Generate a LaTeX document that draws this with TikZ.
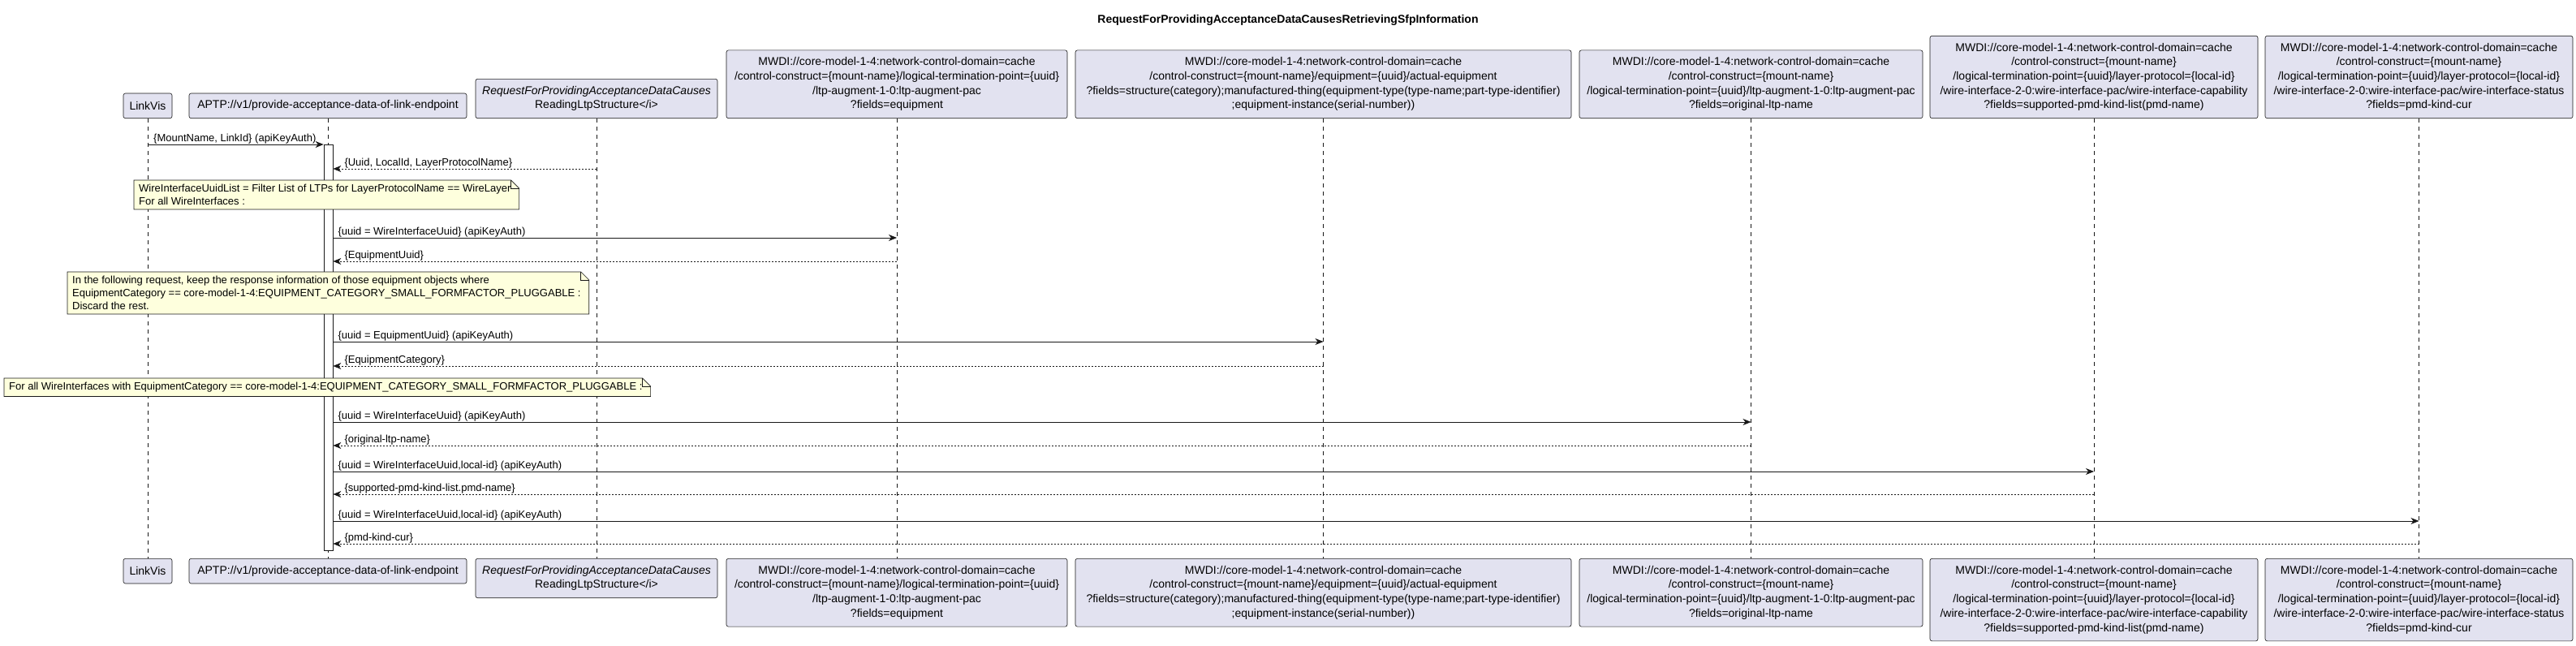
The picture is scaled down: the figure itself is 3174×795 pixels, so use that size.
\documentclass[tikz,border=0pt]{standalone}
\usepackage{fontspec}
\setmainfont{Liberation Sans}
\usetikzlibrary{arrows.meta,calc,backgrounds}
\definecolor{partfill}{HTML}{E2E2F0}
\definecolor{linecol}{HTML}{181818}
\definecolor{notefill}{HTML}{FEFFDD}
\pgfdeclarelayer{noteback}
\pgfdeclarelayer{notefront}
\pgfsetlayers{background,main,noteback,notefront}
\begin{document}
\begin{tikzpicture}[x=1pt,y=-1pt,
  part/.style={draw=linecol, line width=0.6pt, fill=partfill, rounded corners=2.5pt,
    align=center, font=\fontsize{14}{17.7}\selectfont, inner sep=0pt},
  lifeline/.style={draw=linecol, line width=0.5pt, dash pattern=on 5pt off 5pt},
  msg/.style={draw=linecol, line width=1pt, -{Stealth[length=10pt,width=8pt,inset=3pt]}},
  ret/.style={draw=linecol, line width=1pt, dash pattern=on 2pt off 2pt, -{Stealth[length=10pt,width=8pt,inset=3pt]}},
  lbl/.style={font=\fontsize{13}{15.5}\selectfont, inner sep=0pt, anchor=base west},
  notetext/.style={font=\fontsize{13}{16}\selectfont, align=left, inner xsep=10pt, inner ysep=5pt, anchor=north west},
  notebox/.style={draw=linecol, line width=0.6pt, fill=notefill},
]
\useasboundingbox (0,0) rectangle (3174,795);
\begin{scope}[on background layer]
\fill[white] (0,0) rectangle (3174,795);
\end{scope}

\node[font=\bfseries\fontsize{14}{17}\selectfont] (title) at (1587,25) {RequestForProvidingAcceptanceDataCausesRetrievingSfpInformation};

% participants top
\node[part, minimum width=60pt, minimum height=30.7pt, anchor=south] (P1t) at (182,146) {LinkVis};
\node[part, minimum width=342pt, minimum height=30.7pt, anchor=south] (P2t) at (404,146) {APTP://v1/provide-acceptance-data-of-link-endpoint};
\node[part, minimum width=298pt, minimum height=48.4pt, anchor=south] (P3t) at (735,146) {\itshape RequestForProvidingAcceptanceDataCauses\\ReadingLtpStructure</i>};
\node[part, minimum width=420pt, minimum height=83.8pt, anchor=south] (P4t) at (1105,146) {MWDI://core-model-1-4:network-control-domain=cache\\/control-construct=\{mount-name\}/logical-termination-point=\{uuid\}\\/ltp-augment-1-0:ltp-augment-pac\\?fields=equipment};
\node[part, minimum width=611pt, minimum height=83.8pt, anchor=south] (P5t) at (1630.5,146) {MWDI://core-model-1-4:network-control-domain=cache\\/control-construct=\{mount-name\}/equipment=\{uuid\}/actual-equipment\\?fields=structure(category);manufactured-thing(equipment-type(type-name;part-type-identifier)\\;equipment-instance(serial-number))};
\node[part, minimum width=423pt, minimum height=83.8pt, anchor=south] (P6t) at (2157.5,146) {MWDI://core-model-1-4:network-control-domain=cache\\/control-construct=\{mount-name\}\\/logical-termination-point=\{uuid\}/ltp-augment-1-0:ltp-augment-pac\\?fields=original-ltp-name};
\node[part, minimum width=404pt, minimum height=101.5pt, anchor=south] (P7t) at (2580,146) {MWDI://core-model-1-4:network-control-domain=cache\\/control-construct=\{mount-name\}\\/logical-termination-point=\{uuid\}/layer-protocol=\{local-id\}\\/wire-interface-2-0:wire-interface-pac/wire-interface-capability\\?fields=supported-pmd-kind-list(pmd-name)};
\node[part, minimum width=379pt, minimum height=101.5pt, anchor=south] (P8t) at (2980.5,146) {MWDI://core-model-1-4:network-control-domain=cache\\/control-construct=\{mount-name\}\\/logical-termination-point=\{uuid\}/layer-protocol=\{local-id\}\\/wire-interface-2-0:wire-interface-pac/wire-interface-status\\?fields=pmd-kind-cur};

% participants bottom
\node[part, minimum width=60pt, minimum height=30.7pt, anchor=north] (P1b) at (182,688) {LinkVis};
\node[part, minimum width=342pt, minimum height=30.7pt, anchor=north] (P2b) at (404,688) {APTP://v1/provide-acceptance-data-of-link-endpoint};
\node[part, minimum width=298pt, minimum height=48.4pt, anchor=north] (P3b) at (735,688) {\itshape RequestForProvidingAcceptanceDataCauses\\ReadingLtpStructure</i>};
\node[part, minimum width=420pt, minimum height=83.8pt, anchor=north] (P4b) at (1105,688) {MWDI://core-model-1-4:network-control-domain=cache\\/control-construct=\{mount-name\}/logical-termination-point=\{uuid\}\\/ltp-augment-1-0:ltp-augment-pac\\?fields=equipment};
\node[part, minimum width=611pt, minimum height=83.8pt, anchor=north] (P5b) at (1630.5,688) {MWDI://core-model-1-4:network-control-domain=cache\\/control-construct=\{mount-name\}/equipment=\{uuid\}/actual-equipment\\?fields=structure(category);manufactured-thing(equipment-type(type-name;part-type-identifier)\\;equipment-instance(serial-number))};
\node[part, minimum width=423pt, minimum height=83.8pt, anchor=north] (P6b) at (2157.5,688) {MWDI://core-model-1-4:network-control-domain=cache\\/control-construct=\{mount-name\}\\/logical-termination-point=\{uuid\}/ltp-augment-1-0:ltp-augment-pac\\?fields=original-ltp-name};
\node[part, minimum width=404pt, minimum height=101.5pt, anchor=north] (P7b) at (2580,688) {MWDI://core-model-1-4:network-control-domain=cache\\/control-construct=\{mount-name\}\\/logical-termination-point=\{uuid\}/layer-protocol=\{local-id\}\\/wire-interface-2-0:wire-interface-pac/wire-interface-capability\\?fields=supported-pmd-kind-list(pmd-name)};
\node[part, minimum width=379pt, minimum height=101.5pt, anchor=north] (P8b) at (2980.5,688) {MWDI://core-model-1-4:network-control-domain=cache\\/control-construct=\{mount-name\}\\/logical-termination-point=\{uuid\}/layer-protocol=\{local-id\}\\/wire-interface-2-0:wire-interface-pac/wire-interface-status\\?fields=pmd-kind-cur};

% lifelines
\foreach \i in {1,...,8} { \draw[lifeline] (P\i t.south) -- (P\i b.north); }

% activation
\node[draw=linecol, line width=0.6pt, fill=white, minimum width=11pt, minimum height=500pt, inner sep=0pt, anchor=north] (act) at (404.5,178) {};

% rows
\coordinate (r1) at (0,178);
\coordinate (r2) at (0,208);
\coordinate (r3) at (0,293);
\coordinate (r4) at (0,322);
\coordinate (r5) at (0,421);
\coordinate (r6) at (0,451);
\coordinate (r7) at (0,520);
\coordinate (r8) at (0,549);
\coordinate (r9) at (0,581);
\coordinate (r10) at (0,609);
\coordinate (r11) at (0,642);
\coordinate (r12) at (0,670);

\draw[msg] (P1t.south |- r1) -- (act.west |- r1);
\node[lbl] at ($(P1t.south |- r1)+(7,-4)$) {\{MountName, LinkId\} (apiKeyAuth)};

\draw[ret] (P3t.south |- r2) -- (act.east |- r2);
\node[lbl] at ($(act.east |- r2)+(14,-4)$) {\{Uuid, LocalId, LayerProtocolName\}};

\draw[msg] (act.east |- r3) -- (P4t.south |- r3);
\node[lbl] at ($(act.east |- r3)+(6,-4)$) {\{uuid = WireInterfaceUuid\} (apiKeyAuth)};
\draw[ret] (P4t.south |- r4) -- (act.east |- r4);
\node[lbl] at ($(act.east |- r4)+(14,-4)$) {\{EquipmentUuid\}};

\draw[msg] (act.east |- r5) -- (P5t.south |- r5);
\node[lbl] at ($(act.east |- r5)+(6,-4)$) {\{uuid = EquipmentUuid\} (apiKeyAuth)};
\draw[ret] (P5t.south |- r6) -- (act.east |- r6);
\node[lbl] at ($(act.east |- r6)+(14,-4)$) {\{EquipmentCategory\}};

\draw[msg] (act.east |- r7) -- (P6t.south |- r7);
\node[lbl] at ($(act.east |- r7)+(6,-4)$) {\{uuid = WireInterfaceUuid\} (apiKeyAuth)};
\draw[ret] (P6t.south |- r8) -- (act.east |- r8);
\node[lbl] at ($(act.east |- r8)+(14,-4)$) {\{original-ltp-name\}};

\draw[msg] (act.east |- r9) -- (P7t.south |- r9);
\node[lbl] at ($(act.east |- r9)+(6,-4)$) {\{uuid = WireInterfaceUuid,local-id\} (apiKeyAuth)};
\draw[ret] (P7t.south |- r10) -- (act.east |- r10);
\node[lbl] at ($(act.east |- r10)+(14,-4)$) {\{supported-pmd-kind-list.pmd-name\}};

\draw[msg] (act.east |- r11) -- (P8t.south |- r11);
\node[lbl] at ($(act.east |- r11)+(6,-4)$) {\{uuid = WireInterfaceUuid,local-id\} (apiKeyAuth)};
\draw[ret] (P8t.south |- r12) -- (act.east |- r12);
\node[lbl] at ($(act.east |- r12)+(14,-4)$) {\{pmd-kind-cur\}};

% notes (drawn above lifelines and activation bar)
\begin{pgfonlayer}{notefront}
\node[notetext] (n1) at (161,222) {WireInterfaceUuidList = Filter List of LTPs for LayerProtocolName == WireLayer\\For all WireInterfaces :};
\node[notetext] (n2) at (79,335) {In the following request, keep the response information of those equipment objects where\\EquipmentCategory == core-model-1-4:EQUIPMENT\_CATEGORY\_SMALL\_FORMFACTOR\_PLUGGABLE :\\Discard the rest.};
\node[notetext] (n3) at (1,466) {For all WireInterfaces with EquipmentCategory == core-model-1-4:EQUIPMENT\_CATEGORY\_SMALL\_FORMFACTOR\_PLUGGABLE :};
\end{pgfonlayer}
\begin{pgfonlayer}{noteback}
\foreach \n in {n1,n2,n3} {
  \draw[notebox] ($(\n.north west)+(4,0)$) -- ($(\n.north east)+(-10,0)$) -- ($(\n.north east)+(0,10)$) -- (\n.south east) -- ($(\n.south west)+(4,0)$) -- cycle;
  \draw[draw=linecol, line width=0.6pt] ($(\n.north east)+(-10,0)$) |- ($(\n.north east)+(0,10)$);
}
\end{pgfonlayer}
\end{tikzpicture}
\end{document}
